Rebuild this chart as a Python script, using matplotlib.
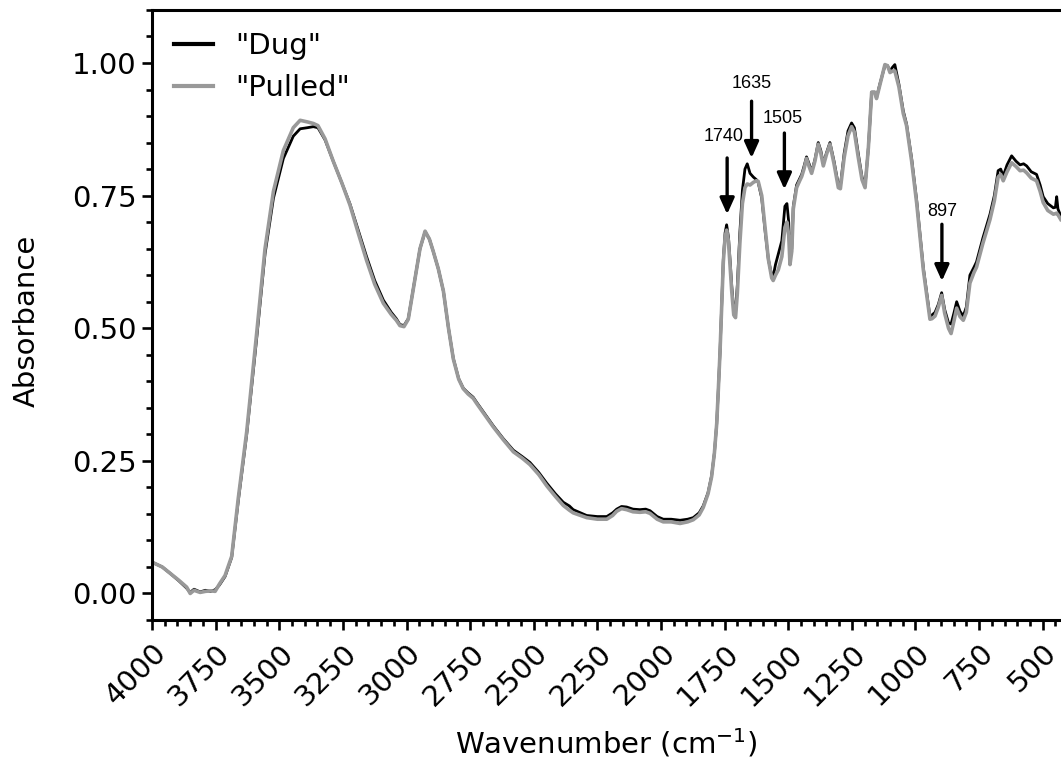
import numpy as np
import matplotlib
matplotlib.use("Agg")
import matplotlib.pyplot as plt
from matplotlib.ticker import MultipleLocator, FormatStrFormatter

# ── data ────────────────────────────────────────────────────────────────────
wavenumber = [
    4000, 3960, 3929, 3895, 3864, 3850, 3835, 3811, 3790, 3770, 3752, 3735,
    3713, 3687, 3661, 3628, 3589, 3556, 3523, 3484, 3445, 3418, 3390, 3366,
    3348, 3320, 3288, 3255, 3222, 3190, 3157, 3125, 3091, 3060, 3040, 3026,
    3010, 2993, 2973, 2947, 2927, 2910, 2895, 2875, 2855, 2835, 2816, 2795,
    2777, 2758, 2738, 2724, 2690, 2659, 2620, 2580, 2545, 2515, 2480, 2449,
    2415, 2384, 2360, 2345, 2292, 2250, 2213, 2190, 2174, 2155, 2135, 2110,
    2083, 2060, 2043, 2015, 1991, 1960, 1925, 1895, 1873, 1850, 1834, 1815,
    1801, 1790, 1781, 1775, 1768, 1761, 1755, 1748, 1742, 1735, 1728, 1722,
    1714, 1707, 1700, 1690, 1680, 1670, 1661, 1650, 1637, 1625, 1618, 1604,
    1590, 1578, 1565, 1559, 1550, 1539, 1525, 1513, 1505, 1498, 1493, 1486,
    1480, 1467, 1455, 1447, 1438, 1428, 1418, 1408, 1395, 1382, 1372, 1362,
    1350, 1336, 1320, 1303, 1295, 1280, 1265, 1251, 1240, 1225, 1210, 1198,
    1185, 1172, 1160, 1153, 1140, 1120, 1110, 1100, 1090, 1081, 1065, 1048,
    1035, 1015, 995, 969, 943, 935, 923, 910, 897, 885, 870, 860, 848, 838,
    825, 812, 800, 786, 770, 760, 735, 707, 690, 675, 665, 655, 640, 622,
    605, 589, 575, 563, 545, 524, 510, 498, 480, 458, 450, 445, 440, 429,
]

dug = [
    0.059, 0.050, 0.038, 0.024, 0.010, 0.002, 0.008, 0.003, 0.006, 0.004, 0.007, 0.016,
    0.032, 0.068, 0.175, 0.300, 0.480, 0.640, 0.745, 0.820, 0.862, 0.876, 0.878, 0.880,
    0.878, 0.855, 0.815, 0.775, 0.734, 0.685, 0.635, 0.590, 0.553, 0.530, 0.518, 0.507,
    0.505, 0.518, 0.575, 0.650, 0.682, 0.668, 0.645, 0.612, 0.570, 0.500, 0.443, 0.405,
    0.387, 0.378, 0.370, 0.360, 0.337, 0.316, 0.292, 0.270, 0.258, 0.247, 0.228, 0.208,
    0.188, 0.172, 0.165, 0.158, 0.147, 0.145, 0.145, 0.152, 0.159, 0.164, 0.163, 0.159,
    0.158, 0.159, 0.156, 0.145, 0.140, 0.140, 0.138, 0.140, 0.143, 0.152, 0.165, 0.190,
    0.222, 0.265, 0.320, 0.380, 0.455, 0.550, 0.630, 0.680, 0.695, 0.672, 0.625, 0.580,
    0.535, 0.530, 0.580, 0.680, 0.760, 0.800, 0.810, 0.792, 0.785, 0.780, 0.775, 0.745,
    0.680, 0.630, 0.600, 0.598, 0.620, 0.640, 0.665, 0.730, 0.735, 0.700, 0.630, 0.650,
    0.730, 0.770, 0.782, 0.790, 0.805, 0.823, 0.810, 0.795, 0.818, 0.850, 0.835, 0.810,
    0.830, 0.850, 0.815, 0.770, 0.768, 0.830, 0.872, 0.887, 0.878, 0.830, 0.785, 0.768,
    0.840, 0.945, 0.945, 0.935, 0.960, 0.995, 0.995, 0.985, 0.992, 0.997, 0.960, 0.910,
    0.885, 0.820, 0.740, 0.614, 0.522, 0.525, 0.530, 0.545, 0.567, 0.535, 0.510, 0.508, 0.530, 0.550,
    0.532, 0.523, 0.540, 0.600, 0.615, 0.625, 0.670, 0.715, 0.750, 0.797, 0.800, 0.787, 0.808, 0.825,
    0.815, 0.808, 0.810, 0.806, 0.795, 0.790, 0.770, 0.748, 0.735, 0.727, 0.728, 0.748, 0.725, 0.712,
]

pulled = [
    0.059, 0.050, 0.038, 0.025, 0.012, 0.000, 0.006, 0.002, 0.004, 0.005, 0.004, 0.018,
    0.034, 0.070, 0.180, 0.305, 0.490, 0.650, 0.758, 0.835, 0.878, 0.892, 0.889, 0.886,
    0.882, 0.857, 0.815, 0.775, 0.732, 0.680, 0.628, 0.583, 0.547, 0.526, 0.515, 0.505,
    0.503, 0.517, 0.575, 0.650, 0.683, 0.668, 0.645, 0.612, 0.570, 0.500, 0.442, 0.404,
    0.386, 0.376, 0.368, 0.358, 0.335, 0.314, 0.290, 0.267, 0.255, 0.243, 0.224, 0.203,
    0.183, 0.166, 0.157, 0.152, 0.143, 0.140, 0.140, 0.147, 0.155, 0.160, 0.158, 0.154,
    0.153, 0.154, 0.151, 0.140, 0.135, 0.135, 0.132, 0.135, 0.139, 0.148, 0.162, 0.188,
    0.220, 0.265, 0.320, 0.380, 0.455, 0.548, 0.625, 0.672, 0.685, 0.665, 0.615, 0.570,
    0.525, 0.520, 0.565, 0.660, 0.735, 0.765, 0.772, 0.770, 0.775, 0.778, 0.777, 0.750,
    0.685, 0.630, 0.595, 0.590, 0.600, 0.610, 0.635, 0.690, 0.700, 0.675, 0.620, 0.645,
    0.725, 0.765, 0.778, 0.786, 0.800, 0.820, 0.805, 0.792, 0.815, 0.847, 0.830, 0.806,
    0.827, 0.847, 0.810, 0.765, 0.763, 0.822, 0.863, 0.880, 0.870, 0.823, 0.780, 0.765,
    0.840, 0.945, 0.945, 0.933, 0.958, 0.997, 0.995, 0.982, 0.985, 0.985, 0.955, 0.905,
    0.882, 0.815, 0.735, 0.610, 0.517, 0.518, 0.523, 0.540, 0.562, 0.528, 0.500, 0.490, 0.515, 0.538,
    0.522, 0.515, 0.530, 0.585, 0.605, 0.615, 0.660, 0.705, 0.740, 0.785, 0.790, 0.778, 0.795, 0.812,
    0.805, 0.797, 0.798, 0.793, 0.783, 0.778, 0.758, 0.737, 0.722, 0.715, 0.716, 0.717, 0.714, 0.705,
]

# peak annotations: label, arrow x, arrow top, arrow tip, text x, text y
peak_labels = ["1740", "1635", "1505", "897"]
arrow_x     = [1740, 1644, 1515, 896]
arrow_top   = [0.821, 0.928, 0.868, 0.696]
arrow_tip   = [0.715, 0.821, 0.762, 0.589]
label_x     = [1755, 1644, 1522, 893]
label_y     = [0.862, 0.962, 0.895, 0.720]

GRAY = "#999999"
FS = 21

fig = plt.figure(figsize=(10.61, 7.66), dpi=100)
ax = fig.add_axes([0.1433, 0.1906, 0.8567, 0.7964])

ax.plot(wavenumber, dug, color="black", linewidth=2.0, label='"Dug"')
ax.plot(wavenumber, pulled, color=GRAY, linewidth=2.6, label='"Pulled"')

for lab, xa, yt, yb, tx, ty in zip(peak_labels, arrow_x, arrow_top, arrow_tip,
                                   label_x, label_y):
    ax.annotate("", xy=(xa, yb), xytext=(xa, yt),
                arrowprops=dict(arrowstyle="-|>,head_width=0.36,head_length=0.8",
                                lw=2.4, color="black", mutation_scale=12,
                                shrinkA=0, shrinkB=0))
    ax.text(tx, ty, lab, ha="center", va="center", fontsize=13,
            family="Liberation Sans")

ax.set_xlim(4000, 428)
ax.set_ylim(-0.05, 1.1)

ax.xaxis.set_major_locator(MultipleLocator(250))
ax.xaxis.set_minor_locator(MultipleLocator(50))
ax.yaxis.set_major_locator(MultipleLocator(0.25))
ax.yaxis.set_minor_locator(MultipleLocator(0.05))
ax.yaxis.set_major_formatter(FormatStrFormatter("%.2f"))

ax.spines["right"].set_visible(False)
for s in ["left", "bottom", "top"]:
    ax.spines[s].set_linewidth(2.2)

ax.tick_params(which="major", length=7.5, width=1.9, labelsize=FS, direction="out")
ax.tick_params(which="minor", length=4.5, width=1.9, direction="out")
ax.tick_params(axis="y", which="major", pad=3.5)
ax.tick_params(axis="x", which="major", pad=6)
ax.tick_params(top=False, which="both")

for lbl in ax.get_xticklabels():
    lbl.set_rotation(45)
    lbl.set_ha("right")
    lbl.set_va("top")
    lbl.set_rotation_mode("anchor")

ax.set_xlabel("Wavenumber (cm$^{-1}$)", fontsize=FS, va="top")
ax.set_ylabel("Absorbance", fontsize=FS)
ax.xaxis.set_label_coords(0.5, -0.175)
ax.yaxis.set_label_coords(-0.122, 0.49)

ax.legend(loc="upper left", bbox_to_anchor=(0.0, 1.0), frameon=False, fontsize=FS,
          handlelength=1.35, handletextpad=0.75, labelspacing=0.48,
          borderaxespad=0.35)
for h in ax.get_legend().get_lines():
    h.set_linewidth(3)

fig.savefig("out.png", dpi=100)
